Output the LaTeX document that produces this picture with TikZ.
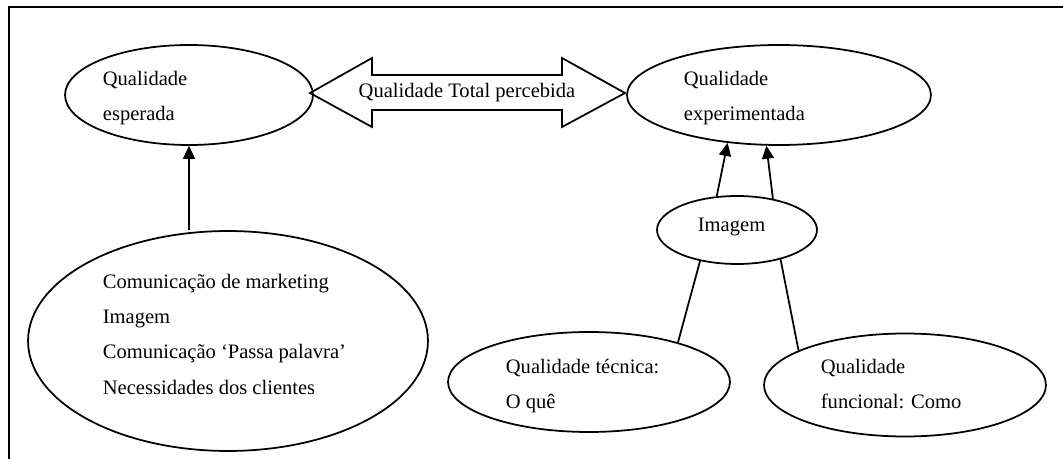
\documentclass[tikz,border=0pt]{standalone}
\usepackage{fontspec}
\setmainfont{Liberation Serif}
\usetikzlibrary{shapes.geometric,arrows.meta}

\begin{document}
\begin{tikzpicture}[x=0.02cm, y=-0.02cm, line width=1pt,
    elli/.style={draw, ellipse, inner sep=0pt},
    lbl/.style={anchor=base west, inner sep=0pt, font=\fontsize{11.7}{14}\selectfont},
    arr/.style={-{Triangle[length=7.4pt, width=6.8pt]}}]
      \useasboundingbox (0, 0) rectangle (1063, 459);
      \draw (1063, 7) -- (9, 7) -- (9, 459);

      % ellipses
      \node[elli, minimum width=4.96cm, minimum height=2cm] (esp) at (189, 95) {};
      \node[elli, minimum width=6.08cm, minimum height=2cm] (exp) at (779, 95) {};
      \node[elli, minimum width=8cm, minimum height=4.4cm] (com) at (228, 341) {};
      \node[elli, minimum width=3.2cm, minimum height=1.36cm] (img) at (737, 230) {};
      \node[elli, minimum width=5.64cm, minimum height=2cm] (tec) at (589, 382) {};
      \node[elli, minimum width=5.64cm, minimum height=2.06cm] (fun) at (905, 385) {};

      % texts
      \node[lbl] (esp1) at (102, 86) {Qualidade};
      \node[lbl] (esp2) at (102, 121) {esperada};
      \node[lbl] (exp1) at (683, 86) {Qualidade};
      \node[lbl] (exp2) at (683, 121) {experimentada};
      \node[lbl] (com1) at (102, 289) {Comunicação de marketing};
      \node[lbl] (com2) at (102, 324) {Imagem};
      \node[lbl] (com3) at (102, 359) {Comunicação ‘Passa palavra’};
      \node[lbl] (com4) at (102, 395) {Necessidades dos clientes};
      \node[lbl] (img1) at (697, 232) {Imagem};
      \node[lbl] (tec1) at (505, 374) {Qualidade técnica:};
      \node[lbl] (tec2) at (505, 409) {O quê};
      \node[lbl] (fun1) at (820, 374) {Qualidade};
      \node[lbl] (fun2) at (820, 409) {funcional: Como};

      % double arrow
      \draw (310, 93) -- (372, 58) -- (372, 75) -- (562, 75) -- (562, 58) -- (625, 93)
            -- (562, 127) -- (562, 110) -- (372, 110) -- (372, 127) -- cycle;
      \node[lbl, anchor=center] (tqp) at (467, 93) {Qualidade Total percebida};

      % connectors
      \draw[arr] (com.north -| esp.south) -- (esp.south);
      \draw[arr] (img.121) -- (exp.223);
      \draw[arr] (img.41) -- (exp.256);
      \draw (img.220) -- (tec.24);
      \draw (img.326) -- (fun.162);
    \end{tikzpicture}
\end{document}
